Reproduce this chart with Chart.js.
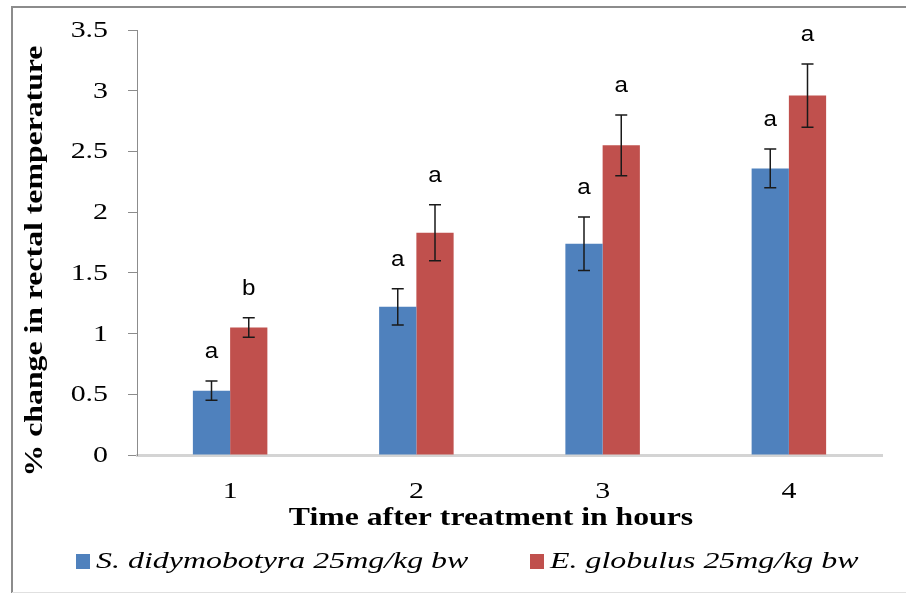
<!DOCTYPE html>
<html>
<head>
<meta charset="utf-8">
<script src="https://cdn.jsdelivr.net/npm/chart.js@4/dist/chart.umd.min.js"></script>
<style>
html,body{margin:0;padding:0;background:#fff;}
canvas{display:block;}
</style>
</head>
<body>
<canvas id="c" width="907" height="594"></canvas>
<script>
const categories = ["1", "2", "3", "4"];
const seriesNames = ["S. didymobotyra 25mg/kg bw", "E. globulus 25mg/kg bw"];
const sDidymobotyra = [0.53, 1.22, 1.74, 2.36];
const sDidymobotyraErr = [0.08, 0.15, 0.22, 0.16];
const sDidymobotyraLetters = ["a", "a", "a", "a"];
const eGlobulus = [1.05, 1.83, 2.55, 2.96];
const eGlobulusErr = [0.08, 0.23, 0.25, 0.26];
const eGlobulusLetters = ["b", "a", "a", "a"];
const yTicks = [0, 0.5, 1, 1.5, 2, 2.5, 3, 3.5];
const yTickLabels = ["0", "0.5", "1", "1.5", "2", "2.5", "3", "3.5"];
const xTitle = "Time after treatment in hours";
const yTitle = "% change in rectal temperature";

const COLORS = ["#4f81bd", "#c0504d"];
const SERIF = '"Liberation Serif", "Times New Roman", serif';
const errs = [sDidymobotyraErr, eGlobulusErr];
const letters = [sDidymobotyraLetters, eGlobulusLetters];

// draw text stretched along its direction (the reference text is wide)
function wideText(ctx, txt, x, y, sx, align) {
  ctx.save();
  ctx.translate(x, y);
  ctx.scale(sx, 1);
  ctx.textAlign = align;
  ctx.fillText(txt, 0, 0);
  ctx.restore();
}

const extras = {
  id: 'extras',
  beforeDraw(chart) {
    const ctx = chart.ctx;
    ctx.save();
    ctx.fillStyle = '#fff';
    ctx.fillRect(0, 0, chart.width, chart.height);
    ctx.restore();
  },
  afterDatasetsDraw(chart) {
    const ctx = chart.ctx;
    const y = chart.scales.y;
    ctx.save();
    chart.data.datasets.forEach((ds, di) => {
      const meta = chart.getDatasetMeta(di);
      meta.data.forEach((bar, i) => {
        const v = ds.data[i], e = errs[di][i];
        const yt = y.getPixelForValue(v + e);
        const yb = y.getPixelForValue(v - e);
        const x = bar.x;
        ctx.strokeStyle = '#1a1a1a';
        ctx.lineWidth = 1.5;
        ctx.beginPath();
        ctx.moveTo(x, yt); ctx.lineTo(x, yb);
        ctx.moveTo(x - 6, yt); ctx.lineTo(x + 6, yt);
        ctx.moveTo(x - 6, yb); ctx.lineTo(x + 6, yb);
        ctx.stroke();
        ctx.fillStyle = '#000';
        ctx.font = '22px "Liberation Sans", Arial, sans-serif';
        ctx.textBaseline = 'alphabetic';
        wideText(ctx, letters[di][i], x, yt - 23, 1.1, 'center');
      });
    });
    ctx.restore();
  },
  afterDraw(chart) {
    const ctx = chart.ctx;
    const xs = chart.scales.x, ys = chart.scales.y;
    ctx.save();
    // frame
    ctx.strokeStyle = '#8c8c8c';
    ctx.lineWidth = 2;
    ctx.beginPath();
    ctx.moveTo(12, 593); ctx.lineTo(12, 7); ctx.lineTo(906, 7);
    ctx.stroke();
    ctx.strokeStyle = '#e0e0e0';
    ctx.lineWidth = 1;
    ctx.beginPath();
    ctx.moveTo(12, 592.5); ctx.lineTo(906, 592.5);
    ctx.stroke();
    ctx.fillStyle = '#000';
    // y tick labels
    ctx.font = '23px ' + SERIF;
    ctx.textBaseline = 'middle';
    yTicks.forEach((v, i) => {
      wideText(ctx, yTickLabels[i], ys.left + ys.width - 29, ys.getPixelForValue(v) + 1, 1.3, 'right');
    });
    // x tick labels
    categories.forEach((c, i) => {
      wideText(ctx, c, xs.getPixelForValue(i), 492, 1.3, 'center');
    });
    // x title
    ctx.font = 'bold 25px ' + SERIF;
    ctx.textBaseline = 'middle';
    wideText(ctx, xTitle, 491, 519, 1.27, 'center');
    // y title
    ctx.save();
    ctx.translate(36, 261);
    ctx.rotate(-Math.PI / 2);
    ctx.scale(1.27, 1);
    ctx.textAlign = 'center';
    ctx.fillText(yTitle, 0, 0);
    ctx.restore();
    // legend
    ctx.font = 'italic 24px ' + SERIF;
    ctx.textBaseline = 'middle';
    const lx = [76, 530];
    seriesNames.forEach((n, i) => {
      ctx.fillStyle = COLORS[i];
      ctx.fillRect(lx[i], 554, 14, 15);
      ctx.fillStyle = '#000';
      wideText(ctx, n, lx[i] + 20, 562, 1.33, 'left');
    });
    ctx.restore();
  }
};

new Chart(document.getElementById('c'), {
  type: 'bar',
  data: {
    labels: categories,
    datasets: [
      { label: seriesNames[0], data: sDidymobotyra, backgroundColor: COLORS[0] },
      { label: seriesNames[1], data: eGlobulus, backgroundColor: COLORS[1] }
    ]
  },
  options: {
    responsive: false,
    animation: false,
    devicePixelRatio: 1,
    layout: { padding: { left: 0, top: 30, right: 25, bottom: 0 } },
    datasets: { bar: { categoryPercentage: 0.4, barPercentage: 1.0 } },
    plugins: { legend: { display: false }, tooltip: { enabled: false } },
    scales: {
      x: {
        grid: { display: false, drawTicks: false },
        border: { display: true, color: '#d4d4d4', width: 3 },
        ticks: { display: false },
        afterFit(s) { s.height = 139; }
      },
      y: {
        min: 0, max: 3.5,
        afterBuildTicks(s) { s.ticks = yTicks.map(v => ({ value: v })); },
        grid: { drawOnChartArea: false, drawTicks: true, tickLength: 9, color: '#8c8c8c' },
        border: { display: true, color: '#8c8c8c', width: 1 },
        ticks: { display: false },
        afterFit(s) { s.width = 137; }
      }
    }
  },
  plugins: [extras]
});
</script>
</body>
</html>
